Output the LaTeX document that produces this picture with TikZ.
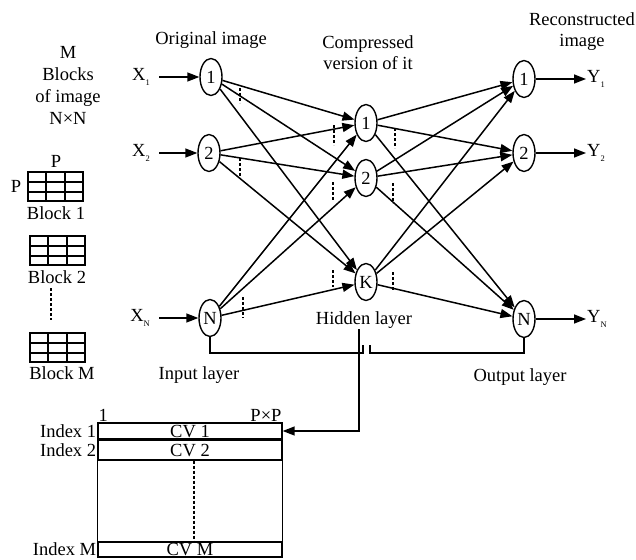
\documentclass[tikz,border=0pt]{standalone}
\usepackage{fontspec}
\setmainfont{Liberation Serif}
\usetikzlibrary{shapes.geometric, arrows.meta}
\tikzset{
    >={Triangle[length=12pt,width=9pt]}, % filled arrow heads
    neuron/.style={ellipse, draw, line width=1.4pt, minimum width=22pt, minimum height=37pt, inner sep=0pt}, % every unit of a layer
    link/.style={->, line width=1.5pt}, % weighted connection
    gap/.style={line width=1.5pt, dash pattern=on 3pt off 2pt}, % the short "..." marks
    cvrow/.style={rectangle, draw, line width=1.4pt, minimum width=184pt, inner sep=0pt, text height=12pt, text depth=0pt},
    blockgrid/.pic={
        \draw[line width=1.6pt] (0,0) rectangle (55,29);
        \foreach \x in {18,37} \draw[line width=1.5pt] (\x,0) -- (\x,29);
        \foreach \y in {10,20} \draw[line width=1.5pt] (0,\y) -- (55,\y);
    },
}
\newcommand{\lsub}[1]{\raisebox{-0.6ex}{\fontsize{8.5}{8.5}\selectfont #1}}

\begin{document}
\begin{tikzpicture}[x=1pt, y=-1pt, font=\fontsize{18.5}{21}\selectfont]
    \useasboundingbox (0,0) rectangle (636,559);

    % layers
    \node[neuron] (i1) at (211,77) {1};
    \node[neuron] (i2) at (209,153) {2};
    \node[neuron] (iN) at (210,318) {N};
    \node[neuron] (h1) at (366,123) {1};
    \node[neuron] (h2) at (366,178) {2};
    \node[neuron] (hK) at (366,282) {K};
    \node[neuron] (o1) at (524,79) {1};
    \node[neuron] (o2) at (524,153) {2};
    \node[neuron] (oN) at (524,319) {N};

    \foreach \a in {i1,i2,iN}
        \foreach \b in {h1,h2,hK}
            \draw[link] (\a) -- (\b);
    \foreach \a in {h1,h2,hK}
        \foreach \b in {o1,o2,oN}
            \draw[link] (\a) -- (\b);

    % inputs and outputs
    \node[anchor=east, inner sep=1pt] (x1) at (151,77) {X\lsub{1}};
    \node[anchor=east, inner sep=1pt] (x2) at (151,153) {X\lsub{2}};
    \node[anchor=east, inner sep=1pt] (xN) at (151,318) {X\lsub{N}};
    \draw[link, shorten <=8pt] (x1) -- (i1);
    \draw[link, shorten <=8pt] (x2) -- (i2);
    \draw[link, shorten <=8pt] (xN) -- (iN);
    \node[anchor=west, inner sep=1pt] (y1) at (586,79) {Y\lsub{1}};
    \node[anchor=west, inner sep=1pt] (y2) at (586,153) {Y\lsub{2}};
    \node[anchor=west, inner sep=1pt] (yN) at (586,319) {Y\lsub{N}};
    \draw[link] (o1) -- (y1);
    \draw[link] (o2) -- (y2);
    \draw[link] (oN) -- (yN);

    % dots between units
    \draw[gap] (240,88) -- (240,103);
    \draw[gap] (240,158) -- (240,178);
    \draw[gap] (243,297) -- (243,318);
    \draw[gap] (334,125) -- (334,145);
    \draw[gap] (395,128) -- (395,148);
    \draw[gap] (333,182) -- (333,200);
    \draw[gap] (393,183) -- (393,203);
    \draw[gap] (333,270) -- (333,287);
    \draw[gap] (393,272) -- (393,290);

    % titles
    \node (torig) at (211,40) {Original image};
    \node[align=center] (tcomp) at (368,53) {Compressed\\version of it};
    \node[align=center] (trec) at (582,32) {Reconstructed\\image};
    \node[align=center, font=\fontsize{18.5}{22}\selectfont] (tblk) at (68,85) {M\\Blocks\\of image\\N×N};
    \node (hid) at (364,320) {Hidden layer};
    \node (lin) at (199,375) {Input layer};
    \node (lout) at (520,377) {Output layer};

    % layer brackets
    \coordinate (bl) at (363,345);
    \coordinate (blb) at (363,353);
    \coordinate (br) at (370,345);
    \coordinate (brb) at (370,353);
    \draw[line width=1.5pt] (iN.south) |- (blb) -- (bl);
    \draw[line width=1.5pt] (br) -- (brb) -| (oN.south);

    % image blocks
    \pic at (28,172) {blockgrid};
    \pic at (30,236) {blockgrid};
    \pic at (30,333) {blockgrid};
    \node (pt) at (56,161) {P};
    \node (pl) at (16,186) {P};
    \node (b1) at (56,213) {Block 1};
    \node (b2) at (57,277) {Block 2};
    \node (bM) at (62,373) {Block M};
    \draw[gap] (51,288) -- (51,320);

    % codebook
    \node[cvrow, minimum height=16pt] (cv1) at (190,431) {CV 1};
    \node[cvrow, minimum height=20pt] (cv2) at (190,450) {CV 2};
    \node[cvrow, minimum height=15pt] (cvM) at (190,549.5) {CV M};
    \draw[line width=1.4pt] (cv1.north west) rectangle (cvM.south east);
    \draw[gap] ([xshift=4pt]cv2.south) -- ([xshift=4pt]cvM.north);
    \node[anchor=east, inner sep=1pt] (ix1) at (cv1.west) {Index 1};
    \node[anchor=east, inner sep=1pt] (ix2) at (cv2.west) {Index 2};
    \node[anchor=east, inner sep=1pt] (ixM) at (cvM.west) {Index M};
    \node[anchor=south west, inner sep=1pt] (c1) at (cv1.north west) {1};
    \node[anchor=south east, inner sep=1pt] (cP) at (cv1.north east) {P×P};

    \coordinate (tap) at (359,329);
    \draw[link] (tap) |- (cv1.east);
\end{tikzpicture}
\end{document}
